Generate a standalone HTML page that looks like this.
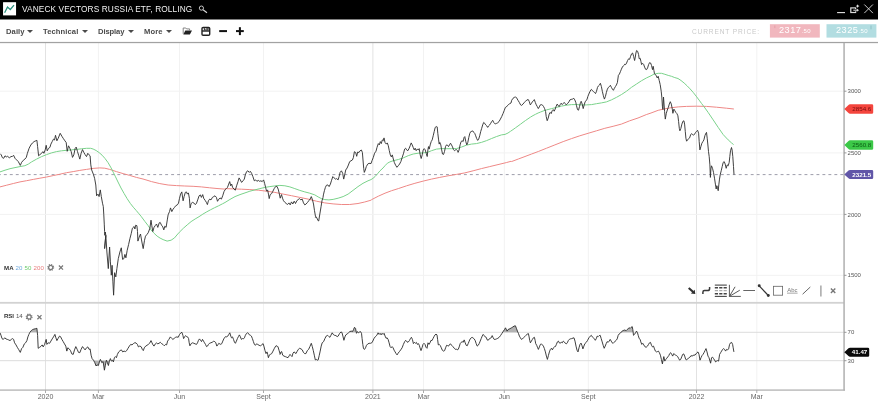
<!DOCTYPE html>
<html><head><meta charset="utf-8"><title>Chart</title>
<style>
html,body{margin:0;padding:0;background:#fff;}
#title,.tb,#cp,.pb,.lbl,svg{will-change:transform}
body{width:878px;height:409px;overflow:hidden;position:relative;font-family:"Liberation Sans",Arial,sans-serif;}
#hdr{position:absolute;left:0;top:0;width:878px;height:19.5px;background:#000;}
#logo{position:absolute;left:3px;top:2.3px;width:13px;height:13px;background:#fff;}
#title{position:absolute;left:22.3px;top:5.4px;font-size:8.3px;line-height:9px;color:#f2f2f2;letter-spacing:0.11px;white-space:nowrap;}
.tb{position:absolute;top:26.9px;font-size:7.6px;line-height:10px;color:#4a4a4a;font-weight:bold;white-space:nowrap;letter-spacing:0.1px}
.car{position:absolute;top:30.2px;width:0;height:0;border-left:3px solid transparent;border-right:3px solid transparent;border-top:3.4px solid #4a4a4a;margin-left:-0.2px}
#cp{position:absolute;left:691.8px;top:27.6px;font-size:6.6px;line-height:8px;color:#c9c9c9;letter-spacing:0.86px;white-space:nowrap;}
.pb{position:absolute;top:24.2px;height:13.4px;color:#fff;font-size:9.2px;line-height:13.4px;text-align:center;letter-spacing:0.5px;white-space:nowrap}
.pb small{font-size:6px;letter-spacing:0.4px}
.lbl{position:absolute;font-size:6.1px;line-height:8px;white-space:nowrap;color:#333;font-weight:bold;letter-spacing:0.1px;word-spacing:0.2px}
.lbl span{font-weight:normal}
</style></head><body>
<svg width="878" height="409" viewBox="0 0 878 409" style="position:absolute;left:0;top:0" font-family="Liberation Sans, Arial, sans-serif">
<line x1="45.5" y1="43" x2="45.5" y2="390" stroke="#e2e2e2" stroke-width="1"/><line x1="98.4" y1="43" x2="98.4" y2="390" stroke="#f2f2f2" stroke-width="1"/><line x1="179.5" y1="43" x2="179.5" y2="390" stroke="#f2f2f2" stroke-width="1"/><line x1="263.5" y1="43" x2="263.5" y2="390" stroke="#f2f2f2" stroke-width="1"/><line x1="372.9" y1="43" x2="372.9" y2="390" stroke="#e2e2e2" stroke-width="1"/><line x1="423.5" y1="43" x2="423.5" y2="390" stroke="#f2f2f2" stroke-width="1"/><line x1="504.3" y1="43" x2="504.3" y2="390" stroke="#f2f2f2" stroke-width="1"/><line x1="588.3" y1="43" x2="588.3" y2="390" stroke="#f2f2f2" stroke-width="1"/><line x1="696.5" y1="43" x2="696.5" y2="390" stroke="#e2e2e2" stroke-width="1"/><line x1="756.8" y1="43" x2="756.8" y2="390" stroke="#f2f2f2" stroke-width="1"/><line x1="0" y1="91.2" x2="844" y2="91.2" stroke="#f2f2f2" stroke-width="1"/><line x1="0" y1="152.9" x2="844" y2="152.9" stroke="#f2f2f2" stroke-width="1"/><line x1="0" y1="214.4" x2="844" y2="214.4" stroke="#f2f2f2" stroke-width="1"/><line x1="0" y1="275.3" x2="844" y2="275.3" stroke="#f2f2f2" stroke-width="1"/><line x1="0" y1="332.3" x2="844" y2="332.3" stroke="#dcdcdc" stroke-width="1"/><line x1="0" y1="360.7" x2="844" y2="360.7" stroke="#dcdcdc" stroke-width="1"/>
<rect x="0" y="0" width="878" height="19.5" fill="#000"/>
<rect x="3.05" y="2.2" width="13" height="13.2" fill="#fff"/>
<rect x="769.9" y="24.2" width="49.9" height="13.4" fill="#f1b7be"/>
<rect x="826.5" y="24.2" width="49.9" height="13.4" fill="#b2dde1"/>
<rect x="0" y="41.9" width="878" height="1.25" fill="#a2a2a2"/>
<rect x="0" y="301.9" width="844" height="1.8" fill="#d2d2d2"/>
<rect x="0" y="389.5" width="845" height="1.15" fill="#a8a8a8"/>
<rect x="843.3" y="43" width="1.55" height="347.5" fill="#b2b2b2"/>
<line x1="45.5" y1="390" x2="45.5" y2="393" stroke="#aaa" stroke-width="1"/><line x1="98.4" y1="390" x2="98.4" y2="393" stroke="#aaa" stroke-width="1"/><line x1="179.5" y1="390" x2="179.5" y2="393" stroke="#aaa" stroke-width="1"/><line x1="263.5" y1="390" x2="263.5" y2="393" stroke="#aaa" stroke-width="1"/><line x1="372.9" y1="390" x2="372.9" y2="393" stroke="#aaa" stroke-width="1"/><line x1="423.5" y1="390" x2="423.5" y2="393" stroke="#aaa" stroke-width="1"/><line x1="504.3" y1="390" x2="504.3" y2="393" stroke="#aaa" stroke-width="1"/><line x1="588.3" y1="390" x2="588.3" y2="393" stroke="#aaa" stroke-width="1"/><line x1="696.5" y1="390" x2="696.5" y2="393" stroke="#aaa" stroke-width="1"/><line x1="756.8" y1="390" x2="756.8" y2="393" stroke="#aaa" stroke-width="1"/><text x="45.5" y="399.4" text-anchor="middle" font-size="7" fill="#666">2020</text><text x="98.4" y="399.4" text-anchor="middle" font-size="7" fill="#666">Mar</text><text x="179.5" y="399.4" text-anchor="middle" font-size="7" fill="#666">Jun</text><text x="263.5" y="399.4" text-anchor="middle" font-size="7" fill="#666">Sept</text><text x="372.9" y="399.4" text-anchor="middle" font-size="7" fill="#666">2021</text><text x="423.5" y="399.4" text-anchor="middle" font-size="7" fill="#666">Mar</text><text x="504.3" y="399.4" text-anchor="middle" font-size="7" fill="#666">Jun</text><text x="588.3" y="399.4" text-anchor="middle" font-size="7" fill="#666">Sept</text><text x="696.5" y="399.4" text-anchor="middle" font-size="7" fill="#666">2022</text><text x="756.8" y="399.4" text-anchor="middle" font-size="7" fill="#666">Mar</text><line x1="844" y1="91.2" x2="846.5" y2="91.2" stroke="#999" stroke-width="1"/><text x="847.6" y="93.3" font-size="6" fill="#555">3000</text><line x1="844" y1="152.9" x2="846.5" y2="152.9" stroke="#999" stroke-width="1"/><text x="847.6" y="155.0" font-size="6" fill="#555">2500</text><line x1="844" y1="214.4" x2="846.5" y2="214.4" stroke="#999" stroke-width="1"/><text x="847.6" y="216.5" font-size="6" fill="#555">2000</text><line x1="844" y1="275.3" x2="846.5" y2="275.3" stroke="#999" stroke-width="1"/><text x="847.6" y="277.4" font-size="6" fill="#555">1500</text><line x1="844" y1="332.3" x2="846.5" y2="332.3" stroke="#999" stroke-width="1"/><text x="847.6" y="334.4" font-size="6" fill="#555">70</text><line x1="844" y1="360.7" x2="846.5" y2="360.7" stroke="#999" stroke-width="1"/><text x="847.6" y="362.8" font-size="6" fill="#555">30</text>
<line x1="0" y1="174.6" x2="844" y2="174.6" stroke="#9494a4" stroke-width="0.92" stroke-dasharray="2.9 3.075" stroke-dashoffset="2.125"/>
<polyline points="0.0,186.9 6.7,185.2 13.3,183.5 20.0,181.9 26.6,180.7 33.3,179.4 39.9,178.2 46.6,177.0 53.2,175.6 59.9,174.2 66.5,172.7 73.2,171.6 79.8,170.4 86.5,169.4 93.1,168.4 99.8,167.9 104.8,168.2 109.7,169.4 116.4,171.6 123.1,173.6 129.7,175.4 136.4,177.4 143.0,179.0 146.0,179.9 151.5,181.6 159.8,183.6 168.1,185.0 176.5,185.6 184.8,186.0 193.1,186.3 201.4,186.9 209.7,187.8 218.0,188.6 224.7,189.1 225.0,188.6 233.3,188.9 241.6,189.2 249.9,189.6 258.3,190.2 266.6,191.2 274.9,192.4 283.2,194.1 291.5,195.7 299.8,197.4 308.1,199.1 316.5,201.2 324.8,202.9 333.1,203.9 341.4,204.5 349.7,204.5 358.0,203.5 364.7,202.0 371.0,200.2 371.7,199.6 378.3,196.2 385.0,193.2 391.6,190.7 398.3,188.6 406.6,185.8 414.9,183.3 423.2,181.1 431.5,179.1 439.8,177.4 448.1,175.8 456.5,174.4 464.8,172.9 473.1,170.8 481.4,168.6 489.7,166.6 498.0,164.6 506.3,162.6 511.0,161.3 511.7,161.5 518.3,159.0 525.0,156.5 531.6,154.0 538.3,151.5 546.6,148.2 554.9,144.9 563.2,141.6 571.5,138.6 579.8,135.8 588.1,133.3 596.5,130.8 604.8,128.3 613.1,126.3 621.4,124.1 629.7,120.8 638.0,118.0 646.3,114.6 651.0,113.0 658.2,110.3 663.2,109.2 669.8,107.9 678.2,106.9 686.5,106.4 696.4,106.2 706.4,106.4 716.4,107.2 726.4,108.2 733.9,109.0" fill="none" stroke="#ee8886" stroke-width="1" stroke-linejoin="round"/>
<polyline points="0.0,171.9 5.0,170.2 10.0,168.7 15.0,167.6 20.0,166.6 24.9,165.7 28.3,164.1 31.6,161.9 36.6,159.1 41.6,156.6 46.6,154.6 51.5,152.9 56.5,151.6 61.5,150.8 66.5,150.3 71.5,149.9 76.5,149.4 81.5,148.8 86.5,148.3 90.6,148.3 93.1,149.0 96.1,150.5 99.1,152.6 102.1,155.2 105.1,158.6 108.1,162.7 111.1,167.9 113.5,172.8 115.5,176.8 118.0,182.0 121.0,188.0 124.1,193.5 127.1,198.6 130.3,203.4 133.3,207.2 136.3,210.6 139.0,213.8 141.0,216.2 145.0,221.6 148.1,225.6 151.1,230.0 154.1,233.3 157.1,236.1 160.1,238.1 163.1,239.6 167.1,241.1 171.1,240.2 174.5,237.9 176.9,235.0 179.4,232.2 183.3,228.3 187.2,224.9 191.1,221.6 195.1,219.0 199.0,216.7 202.9,214.1 206.8,211.8 210.7,209.7 214.6,207.7 218.6,205.8 222.5,203.8 225.0,202.5 230.0,199.4 235.0,196.6 240.0,194.6 245.0,192.9 249.9,191.2 254.9,189.9 259.9,188.6 264.9,187.4 269.9,186.6 274.9,185.9 279.9,185.4 284.9,185.8 289.9,186.9 294.8,188.6 299.8,190.4 304.8,191.9 309.8,193.2 314.8,194.9 318.1,196.9 321.4,198.6 324.8,199.6 328.9,199.9 333.1,199.4 338.1,198.2 343.1,196.6 348.1,194.1 353.0,190.4 358.0,186.6 363.0,183.3 368.0,180.8 371.0,179.6 373.0,178.3 375.0,176.6 377.5,173.8 380.0,170.8 383.0,168.0 385.0,165.7 387.4,163.2 389.9,161.9 393.3,160.7 398.3,159.5 403.2,157.9 408.2,155.7 413.2,154.0 418.2,153.2 423.2,152.9 427.4,152.4 431.5,150.7 436.5,149.1 441.5,148.6 446.5,148.7 451.5,148.7 456.5,148.6 461.4,147.1 466.4,145.2 471.4,144.1 476.4,143.6 481.4,142.4 486.4,140.7 491.4,138.6 496.4,136.6 501.4,134.9 505.0,134.4 508.0,133.0 510.5,131.3 513.0,129.6 515.5,127.8 518.0,126.0 520.5,124.2 523.0,122.3 525.5,120.5 528.0,118.8 530.5,117.1 533.0,115.6 535.5,114.3 538.1,113.0 540.6,112.0 543.1,111.0 546.6,109.9 551.6,108.6 556.5,107.4 561.5,106.1 566.5,105.2 571.5,104.6 576.5,104.6 581.5,104.9 586.5,104.9 591.5,104.6 596.5,103.7 601.4,102.9 606.4,101.9 611.4,99.9 616.4,97.4 621.4,94.6 626.4,91.3 631.4,87.4 636.4,84.1 641.4,80.8 646.3,78.0 651.0,75.8 654.0,74.1 658.2,73.3 661.5,73.3 664.9,74.3 668.2,75.4 671.5,76.3 674.8,77.6 678.0,78.5 681.0,80.5 684.1,83.0 687.1,85.8 690.1,88.9 693.1,92.3 696.1,96.1 699.1,100.1 701.5,103.4 704.1,106.8 708.2,112.5 713.2,119.9 718.2,127.4 723.2,134.6 728.2,139.9 731.5,142.9 733.6,144.6" fill="none" stroke="#7ad28a" stroke-width="1" stroke-linejoin="round"/>
<polyline points="0.0,153.6 1.3,154.9 2.3,157.6 3.7,158.3 5.0,155.8 6.3,156.9 7.6,156.3 9.3,157.8 11.0,156.6 12.6,156.3 13.6,155.3 15.0,158.3 16.6,159.9 18.3,161.6 20.3,165.4 21.6,162.4 23.3,160.3 24.9,159.1 26.3,157.4 27.4,153.3 29.1,148.3 30.8,145.0 32.4,143.0 34.1,141.6 35.8,140.8 36.9,140.3 37.6,146.6 38.6,155.8 39.9,154.6 41.6,153.3 42.9,151.6 43.9,153.3 45.2,149.9 46.2,145.3 47.2,150.8 48.6,148.3 49.9,147.4 50.9,144.1 52.2,141.6 53.5,139.1 54.5,140.0 55.5,135.3 56.9,140.8 58.2,138.3 60.2,133.3 61.9,136.3 63.2,138.3 64.9,140.8 66.2,142.5 67.2,151.3 68.5,145.8 69.8,148.3 71.2,151.6 72.5,157.4 73.8,154.9 75.2,148.3 76.2,147.1 77.5,151.6 78.8,155.8 79.8,159.1 81.1,153.3 82.5,149.6 83.8,152.4 85.1,154.6 86.5,156.6 87.8,153.3 89.1,154.9 90.1,155.8 90.8,164.9 91.7,170.0 93.3,174.1 94.6,178.3 95.8,185.0 96.6,195.8 98.0,194.1 99.1,196.6 100.3,189.9 101.3,196.6 102.5,203.2 103.3,206.6 103.8,214.9 104.3,224.9 104.6,231.5 104.8,235.3 105.3,232.0 105.8,235.3 104.6,248.6 105.8,235.3 106.9,252.0 108.3,268.6 109.6,247.0 110.4,261.9 111.3,275.2 112.1,265.3 112.9,281.9 113.6,295.2 114.6,272.7 115.8,276.9 116.9,268.6 118.3,258.6 119.9,252.0 121.3,247.8 122.6,259.4 123.9,258.6 124.9,254.4 125.9,257.8 127.2,250.3 128.6,244.5 129.9,238.7 131.2,233.7 132.4,228.2 134.1,226.5 134.9,229.0 135.7,225.2 136.9,225.7 137.5,231.5 137.9,241.1 139.2,237.0 140.5,234.0 141.9,242.0 143.2,248.6 144.5,240.3 145.5,236.2 146.9,234.5 148.2,232.8 149.9,228.2 151.0,220.2 151.8,225.7 152.8,231.5 154.0,227.4 155.2,225.7 156.5,224.0 157.8,227.4 159.2,222.9 160.2,222.4 161.5,225.2 162.8,226.9 163.8,229.9 164.8,226.2 166.1,227.4 167.3,219.9 168.1,214.9 169.5,211.6 170.5,207.9 171.8,211.6 173.1,209.1 174.5,207.4 175.8,205.7 177.3,204.9 178.5,203.2 179.5,198.3 180.6,194.1 181.8,191.9 183.1,200.8 184.1,196.6 185.3,192.4 186.4,191.9 187.4,194.1 188.4,192.9 189.4,198.3 190.1,207.9 191.1,203.6 192.4,202.4 193.8,202.9 195.1,204.6 196.4,203.6 197.7,199.9 199.1,195.8 200.4,194.9 201.4,197.4 202.7,194.6 203.7,198.3 205.1,200.3 206.4,202.4 207.4,204.6 208.4,200.8 209.7,199.1 211.0,199.9 212.4,197.4 213.7,196.6 215.0,195.8 216.4,197.4 217.5,201.3 218.9,199.1 220.0,197.9 221.4,199.1 222.7,195.8 224.0,191.6 225.0,189.9 226.3,188.6 227.5,187.4 228.7,184.1 229.7,181.6 230.7,185.8 231.7,184.1 232.6,187.4 234.0,189.1 235.3,190.2 236.6,185.8 238.0,181.6 239.1,177.9 240.3,179.9 241.6,182.4 243.0,180.8 244.3,179.1 245.3,174.9 246.6,171.6 247.9,170.8 249.3,172.4 250.3,171.3 251.6,173.3 252.9,176.6 254.3,180.8 255.6,179.9 256.9,181.3 258.3,180.4 259.6,181.3 260.9,180.8 262.2,181.6 263.6,179.9 264.6,183.3 265.6,187.4 266.6,191.2 267.6,189.9 268.6,194.9 269.2,198.6 270.2,194.6 271.6,193.6 272.9,191.2 274.2,188.6 275.6,186.6 276.9,186.3 278.2,189.1 279.2,193.2 280.2,198.2 281.5,194.6 282.5,198.2 283.5,200.7 284.9,202.4 286.2,203.5 287.5,204.5 288.9,202.9 290.2,204.9 291.5,201.9 292.8,204.0 294.2,201.2 295.5,203.5 296.8,200.7 298.2,199.6 299.5,198.6 300.8,199.9 302.2,199.1 303.5,202.9 304.8,204.9 306.1,204.0 307.5,202.4 308.8,200.7 310.1,199.1 311.3,196.6 312.5,199.9 313.5,204.0 314.5,210.7 315.5,216.5 315.3,217.3 316.3,216.9 318.2,220.8 318.7,221.0 319.5,216.0 321.1,206.4 322.0,200.7 323.0,197.5 323.4,194.9 324.4,190.7 325.4,187.4 326.4,185.3 327.8,184.9 329.1,186.6 330.4,184.1 331.4,180.8 332.8,176.6 334.1,177.9 335.4,179.1 336.7,178.6 338.1,179.9 339.1,176.6 340.1,172.4 341.4,170.8 342.7,173.3 343.7,179.1 344.7,174.9 345.7,170.0 347.1,168.0 348.4,165.0 349.7,161.6 351.0,160.8 352.4,160.0 353.4,157.5 354.4,151.7 355.7,152.5 356.7,156.3 357.7,152.0 359.0,152.5 360.0,150.8 361.4,150.0 362.4,152.5 363.0,160.0 363.7,168.3 364.3,172.4 365.3,170.0 366.3,166.6 367.7,164.1 369.0,163.3 371.0,163.6 372.0,160.7 373.3,157.4 374.6,153.2 376.0,151.2 377.0,147.4 378.3,143.6 379.3,144.9 380.3,141.6 381.3,143.6 382.3,139.9 383.3,140.7 384.0,137.9 385.0,142.4 386.3,144.1 387.3,142.9 388.3,145.7 389.3,150.7 390.3,154.9 391.3,156.9 392.3,154.9 393.3,159.0 394.3,162.4 395.6,165.2 396.9,167.3 398.3,165.7 399.6,164.0 400.9,161.5 402.2,157.4 403.6,153.2 404.6,149.1 405.6,148.2 406.6,149.9 407.9,150.7 409.2,148.2 410.2,145.7 411.2,142.9 412.2,144.9 413.2,147.4 414.2,149.9 415.2,148.2 416.2,150.7 417.2,149.1 418.2,149.9 419.2,148.6 420.2,154.9 421.2,158.5 422.2,154.9 423.2,149.9 424.2,148.6 425.2,149.9 426.2,153.2 427.2,156.5 427.9,149.9 428.5,146.6 429.2,149.1 430.2,144.9 431.2,141.6 432.2,139.9 433.2,135.8 434.2,131.6 435.2,127.4 436.2,126.6 437.2,126.9 437.8,133.3 438.5,139.1 439.2,144.1 439.8,142.4 440.8,144.9 441.5,149.1 442.5,154.0 443.5,154.5 444.5,151.5 445.5,146.6 446.5,144.9 447.5,145.2 448.5,146.6 449.5,144.9 450.5,143.2 451.5,144.9 452.5,146.9 453.5,149.6 454.5,150.7 455.5,149.9 456.5,149.6 457.5,150.7 458.1,152.4 459.1,149.9 460.1,144.9 461.1,141.6 462.1,140.7 463.1,141.6 464.1,137.4 464.8,136.6 465.8,141.6 466.8,144.9 467.8,142.4 468.8,137.4 469.8,133.3 470.8,131.6 471.8,131.3 472.8,130.9 473.8,132.4 474.7,133.3 475.7,135.8 476.7,138.6 477.7,140.4 478.7,139.1 479.7,135.8 480.7,131.6 481.7,128.3 482.7,124.9 483.7,122.4 484.7,123.3 485.7,124.9 486.7,125.8 487.7,127.4 488.7,125.8 489.7,124.9 490.7,123.3 491.7,121.6 492.7,120.3 493.7,122.4 494.7,123.6 495.7,123.8 496.7,123.3 497.7,122.8 499.0,121.6 500.4,119.1 501.7,116.6 503.0,113.6 504.3,110.3 505.3,107.5 506.3,107.0 507.3,105.8 508.3,104.7 509.7,103.7 511.0,103.0 511.7,100.3 513.0,98.3 514.3,97.4 515.6,96.9 516.6,97.9 518.0,100.3 519.3,102.4 520.6,104.9 521.6,105.4 523.0,104.1 524.3,102.4 525.6,101.3 526.9,99.9 528.3,99.6 529.3,101.6 530.3,104.9 531.3,103.6 532.3,101.9 533.3,100.8 534.3,99.6 535.3,102.4 536.3,104.9 537.3,106.6 538.3,108.6 539.3,106.9 540.3,104.9 541.3,104.6 542.6,105.2 543.6,106.6 544.6,108.6 545.6,111.6 546.2,116.5 547.2,120.7 548.2,118.2 549.2,114.1 550.2,112.4 551.2,113.6 552.2,110.7 553.2,109.6 554.2,111.2 555.2,109.1 556.2,106.2 557.2,104.1 558.2,105.7 559.2,106.6 560.2,104.6 561.2,103.2 562.2,104.6 563.2,103.6 564.2,102.4 565.2,103.6 566.2,104.9 567.5,103.6 568.9,101.9 569.9,99.9 571.2,99.4 572.5,99.1 573.8,98.3 574.8,99.9 575.8,102.4 576.5,105.7 577.5,109.6 578.5,110.2 579.5,106.6 580.5,102.4 581.2,101.3 582.2,104.1 583.2,108.6 584.2,104.9 585.2,101.6 586.1,100.8 587.1,99.1 587.8,96.6 588.8,94.1 589.8,91.9 590.8,89.9 591.5,89.4 592.5,90.8 593.5,91.6 594.5,92.4 595.5,93.6 596.5,91.3 597.5,87.4 598.5,85.8 599.5,85.0 600.4,83.3 601.4,86.6 602.4,91.6 603.4,95.8 604.4,99.1 605.4,96.6 606.4,92.4 607.4,89.1 608.4,87.4 609.4,86.6 610.4,85.3 611.4,87.4 612.4,89.1 613.4,90.3 614.4,88.3 615.4,86.6 616.4,85.0 617.4,82.5 618.4,75.3 619.4,74.1 620.4,71.7 621.4,69.2 622.4,67.0 623.4,65.8 624.4,65.0 624.6,64.3 625.6,64.6 626.6,63.0 627.6,60.5 628.6,58.8 629.6,59.3 630.6,56.3 631.6,53.8 632.6,53.0 633.6,56.3 634.6,60.5 635.3,57.1 635.9,53.0 636.6,50.5 637.6,51.3 638.6,54.6 639.2,58.8 640.2,58.3 640.9,61.3 641.6,64.6 642.6,63.3 643.6,64.3 644.6,67.1 645.6,69.3 646.6,69.6 647.6,67.9 648.6,64.6 649.6,62.6 650.6,63.0 651.5,65.4 652.5,69.6 653.2,66.3 653.9,70.4 654.5,73.8 655.2,74.6 656.2,75.4 657.2,77.9 658.2,76.3 659.2,80.4 660.2,84.6 661.2,91.2 661.9,97.9 662.4,106.2 662.9,109.5 663.5,97.0 664.6,111.6 665.3,119.1 666.3,113.3 667.3,110.0 668.3,107.5 669.3,104.1 670.3,101.7 671.3,104.1 672.3,109.1 672.9,113.3 673.9,109.1 674.9,110.8 675.9,112.5 676.9,113.6 677.9,115.8 678.6,121.6 679.3,128.3 679.9,130.8 680.9,128.3 681.9,124.1 682.9,121.3 683.9,120.8 684.6,124.1 685.3,131.6 685.9,138.2 686.6,141.2 687.6,139.9 688.6,138.6 689.6,137.9 690.6,134.9 691.6,133.6 692.6,134.6 693.6,135.2 694.6,134.1 695.6,132.4 696.6,131.3 697.6,130.3 698.6,133.2 699.2,141.6 699.9,149.9 700.9,146.5 701.9,143.2 702.9,141.6 703.9,139.9 704.9,135.7 705.9,133.2 706.5,132.4 707.2,138.2 707.9,145.0 708.5,151.6 709.2,156.6 709.9,164.9 710.4,177.4 710.9,169.1 711.5,165.8 712.5,168.3 713.5,172.4 714.5,178.2 715.5,184.9 716.2,189.0 716.8,185.7 717.5,187.4 718.2,190.7 718.8,184.9 719.5,179.1 720.2,174.9 721.2,170.8 722.2,166.6 723.2,162.4 724.2,161.6 725.2,164.1 726.2,168.3 727.2,164.9 728.2,165.8 729.2,162.4 729.8,156.6 730.5,150.8 731.5,147.5 732.1,150.0 732.8,156.6 733.5,166.6 734.0,174.6" fill="none" stroke="#303030" stroke-width="0.92" stroke-linejoin="round"/>
<polygon points="29.9,332.3 29.9,332.3 31.3,330.6 32.6,329.6 33.9,329.1 35.3,328.8 36.9,328.3 37.3,332.3" fill="#9a9a9a" fill-opacity="0.75"/><polygon points="181.9,332.3 181.9,332.3 181.9,332.3" fill="#9a9a9a" fill-opacity="0.75"/><polygon points="340.6,332.3 340.9,332.0 341.9,332.3 341.9,332.3" fill="#9a9a9a" fill-opacity="0.75"/><polygon points="349.1,332.3 349.8,331.6 351.2,331.1 352.5,331.6 353.5,329.5 354.5,327.3 355.5,328.3 356.3,332.3" fill="#9a9a9a" fill-opacity="0.75"/><polygon points="357.1,332.3 357.5,331.6 358.1,332.3" fill="#9a9a9a" fill-opacity="0.75"/><polygon points="359.1,332.3 359.5,332.0 360.5,331.6 360.9,332.3" fill="#9a9a9a" fill-opacity="0.75"/><polygon points="502.7,332.3 503.1,331.6 504.5,329.5 505.5,327.8 506.5,330.0 507.1,331.1 508.1,329.5 509.1,329.1 510.1,328.6 511.5,327.8 512.8,327.0 514.1,326.1 515.4,325.8 516.4,328.3 517.4,331.1 518.0,332.3" fill="#9a9a9a" fill-opacity="0.75"/><polygon points="620.9,332.3 621.2,332.0 622.2,331.1 623.2,330.6 624.2,330.0 625.2,330.3 626.2,330.6 627.2,329.5 628.2,328.6 629.2,327.8 630.2,328.3 631.2,327.3 632.2,326.6 632.8,329.5 633.2,332.3" fill="#9a9a9a" fill-opacity="0.75"/><polygon points="635.8,332.3 636.5,331.1 637.2,332.3" fill="#9a9a9a" fill-opacity="0.75"/><polygon points="93.7,360.7 94.8,362.7 96.1,366.0 97.1,364.9 98.4,365.5 99.4,361.9 99.9,360.7" fill="#9a9a9a" fill-opacity="0.75"/><polygon points="101.0,360.7 101.8,362.7 103.1,361.6 103.8,366.0 104.4,370.2 105.4,365.2 106.3,360.7" fill="#9a9a9a" fill-opacity="0.75"/><polygon points="106.6,360.7 107.4,362.7 108.4,365.5 109.4,361.1 109.6,360.7" fill="#9a9a9a" fill-opacity="0.75"/><polygon points="111.3,360.7 111.4,361.1 111.8,360.7" fill="#9a9a9a" fill-opacity="0.75"/><polygon points="112.7,360.7 113.4,361.9 113.7,360.7" fill="#9a9a9a" fill-opacity="0.75"/><polygon points="661.7,360.7 662.4,363.9 663.0,360.7" fill="#9a9a9a" fill-opacity="0.75"/><polygon points="664.7,360.7 664.8,361.1 665.0,360.7" fill="#9a9a9a" fill-opacity="0.75"/><polygon points="709.8,360.7 710.0,361.1 710.6,363.2 711.1,360.7" fill="#9a9a9a" fill-opacity="0.75"/><polygon points="714.9,360.7 715.6,361.9 716.6,361.1 717.3,360.7" fill="#9a9a9a" fill-opacity="0.75"/><polygon points="717.9,360.7 718.6,361.1 718.7,360.7" fill="#9a9a9a" fill-opacity="0.75"/>
<polyline points="0.0,332.8 1.0,335.3 2.0,338.6 3.3,339.4 4.7,337.8 6.0,338.9 7.3,339.4 8.6,339.9 10.0,340.6 11.3,339.4 12.6,338.6 13.6,339.4 14.6,342.8 16.0,344.9 17.3,347.3 18.6,349.4 20.3,352.4 21.6,348.6 22.9,347.3 24.3,343.9 25.6,342.8 26.9,340.6 27.9,336.9 28.9,334.4 29.9,332.3 31.3,330.6 32.6,329.6 33.9,329.1 35.3,328.8 36.9,328.3 37.6,335.3 38.2,348.3 39.6,347.3 40.9,346.4 42.2,344.9 43.2,346.9 44.6,344.4 45.6,341.1 46.2,339.4 46.9,344.4 48.2,342.8 49.6,343.3 50.9,341.1 52.2,338.9 53.5,336.9 54.9,334.4 55.9,337.8 56.9,340.6 58.2,338.3 59.5,336.1 60.5,336.6 61.9,339.4 63.2,341.6 64.5,343.9 65.8,346.1 66.8,351.1 67.8,347.8 69.2,348.9 70.5,350.6 71.8,353.9 73.2,354.4 74.5,349.9 75.8,346.6 77.2,349.4 78.5,352.4 79.8,352.7 81.1,349.4 82.5,346.6 83.8,348.3 85.1,349.9 86.5,347.8 87.8,346.9 89.1,349.4 90.1,348.9 91.1,355.2 92.1,358.6 93.5,360.2 94.8,362.7 96.1,366.0 97.1,364.9 98.4,365.5 99.4,361.9 100.4,359.4 101.8,362.7 103.1,361.6 103.8,366.0 104.4,370.2 105.4,365.2 106.4,360.2 107.4,362.7 108.4,365.5 109.4,361.1 110.4,358.6 111.4,361.1 112.4,360.2 113.4,361.9 114.4,357.7 115.4,356.6 116.4,357.7 117.4,354.4 118.7,351.9 120.1,350.6 121.4,349.9 122.7,351.9 124.1,351.1 125.4,351.6 126.7,350.6 128.0,348.3 129.4,346.1 130.7,344.4 132.0,344.9 133.4,343.6 134.7,342.8 136.0,342.9 137.4,344.4 138.4,346.9 139.7,346.1 140.0,346.1 141.3,346.9 142.3,349.4 143.3,350.6 144.3,347.8 145.7,346.1 147.0,345.3 148.3,344.4 149.6,343.3 151.0,340.6 152.0,342.8 153.0,344.9 154.0,346.1 155.3,343.9 156.6,342.8 157.6,343.9 159.0,343.3 160.3,342.3 161.6,343.6 162.9,344.4 164.3,345.8 165.6,344.4 166.6,344.9 167.6,341.1 168.9,339.4 170.3,336.9 171.6,338.3 172.9,339.4 174.3,338.3 175.6,337.3 176.9,336.9 178.2,337.3 179.6,334.4 180.9,332.8 181.9,332.3 182.9,335.3 183.6,338.6 184.6,336.9 185.6,335.6 186.6,336.6 187.6,336.9 188.6,338.6 189.2,342.8 189.9,345.8 191.2,343.6 192.5,342.8 193.9,343.3 195.2,343.9 196.5,344.4 197.5,342.8 198.5,340.3 199.5,338.9 200.5,340.3 201.5,341.6 202.5,339.4 203.5,341.1 204.5,342.8 205.5,344.4 206.5,346.6 207.5,346.1 208.5,344.4 209.5,343.3 210.8,342.8 212.2,342.3 213.5,341.3 214.8,341.6 215.8,342.8 216.8,346.1 217.8,344.9 218.8,343.3 219.8,343.9 220.8,344.4 221.8,343.6 222.8,341.1 223.8,338.9 224.8,337.3 225.8,336.6 226.8,336.9 227.8,336.1 228.8,334.4 229.8,332.8 230.8,336.1 231.5,337.8 232.5,336.9 233.5,339.4 234.5,342.3 235.4,343.3 236.4,341.1 237.4,338.6 238.4,336.6 239.4,334.9 240.4,336.9 241.4,339.4 242.4,338.6 243.4,338.9 244.4,337.8 245.4,335.3 246.4,333.6 247.4,332.8 248.4,333.3 249.4,334.9 250.4,335.3 251.4,336.1 252.4,338.6 253.4,341.6 254.4,344.4 255.4,345.3 256.4,343.9 257.7,344.4 259.1,345.3 260.4,345.8 261.7,344.9 263.1,343.6 264.1,346.9 265.0,350.6 266.0,353.6 267.0,351.9 267.7,354.4 268.4,357.7 269.4,354.9 270.4,354.4 271.7,353.6 273.0,351.1 274.4,348.3 275.7,346.1 277.0,345.8 278.0,346.9 279.0,350.2 280.0,353.6 280.0,354.4 281.0,351.9 281.7,351.6 282.7,355.2 284.0,356.1 285.3,356.6 286.7,357.2 288.0,357.7 289.3,355.6 290.0,354.4 291.0,355.6 292.0,356.6 293.0,353.2 294.0,351.9 295.0,352.7 296.0,353.6 297.0,351.6 298.3,349.4 299.6,348.3 301.0,348.9 302.3,349.9 303.3,352.2 304.6,353.6 305.9,353.6 307.3,350.6 308.6,349.4 309.9,346.6 311.3,343.3 312.3,346.6 313.3,350.6 314.3,355.2 315.3,359.9 316.3,359.4 317.2,360.2 318.2,359.9 319.2,355.6 320.2,351.1 321.2,346.1 322.2,342.8 323.6,341.6 324.9,338.6 326.2,336.1 327.6,335.3 328.9,336.6 329.9,337.3 330.9,335.3 332.2,332.8 333.2,334.4 334.5,335.3 335.9,335.6 337.2,336.6 338.2,336.1 339.5,333.6 340.9,332.0 341.9,332.3 342.9,336.1 343.9,340.3 344.9,336.9 345.8,334.9 347.2,333.9 348.5,332.8 349.8,331.6 351.2,331.1 352.5,331.6 353.5,329.5 354.5,327.3 355.5,328.3 356.5,333.3 357.5,331.6 358.5,332.8 359.5,332.0 360.5,331.6 361.5,333.3 362.1,338.6 362.8,344.4 363.5,348.6 364.5,349.4 365.5,347.8 366.5,345.3 367.8,343.9 369.1,343.3 370.5,343.3 371.8,342.8 372.8,341.1 374.1,338.3 375.4,336.6 376.8,335.3 378.1,332.8 379.1,334.4 380.1,333.3 381.1,334.9 382.1,333.3 383.1,334.4 384.1,333.3 385.1,336.1 386.1,338.3 387.1,337.8 388.1,339.4 389.1,342.8 390.1,346.6 391.1,347.8 392.1,346.6 393.1,347.8 394.1,350.2 395.1,351.9 396.1,353.6 397.1,354.9 398.1,353.2 399.4,351.6 400.7,349.9 402.1,347.8 403.4,344.4 404.7,341.6 405.7,340.3 406.7,341.6 408.0,342.3 409.4,340.6 410.4,338.6 411.4,337.3 412.4,339.4 413.4,343.6 414.4,342.3 415.4,343.3 416.4,342.4 417.4,344.4 418.4,343.6 419.3,345.3 420.0,347.8 420.0,347.8 421.0,350.6 422.0,347.8 423.0,344.4 424.0,343.3 425.0,344.4 426.0,347.3 427.0,348.3 428.0,342.8 429.0,344.4 430.0,342.8 431.0,340.3 432.0,340.6 433.0,338.6 434.0,336.6 435.0,334.9 436.0,334.1 437.0,334.9 437.6,339.4 438.3,344.9 439.3,344.4 440.3,345.6 441.3,347.8 442.3,350.2 443.3,351.1 444.6,350.6 445.6,347.8 446.6,345.3 447.6,345.6 448.6,346.1 449.6,344.4 450.6,343.9 451.6,345.3 452.9,346.6 454.3,348.3 455.3,349.4 456.3,348.9 457.2,349.9 458.2,349.4 459.2,346.9 460.2,343.6 461.2,342.3 462.2,341.6 463.2,342.3 464.2,339.9 465.2,342.8 466.2,345.3 467.2,345.8 468.2,343.6 469.2,341.1 470.2,338.9 471.2,337.8 472.2,337.4 473.2,338.1 474.2,338.9 475.2,340.6 476.2,343.6 477.2,346.1 478.2,345.3 479.2,343.6 480.2,341.1 481.2,338.6 482.2,336.1 483.2,334.4 484.2,335.6 485.2,336.9 486.2,337.3 487.2,339.9 488.2,340.3 489.2,338.9 490.2,338.3 491.2,337.8 492.2,335.6 493.2,337.8 494.2,339.4 495.2,339.4 496.5,338.9 497.8,338.3 499.2,337.3 500.5,335.6 501.8,333.6 503.1,331.6 504.5,329.5 505.5,327.8 506.5,330.0 507.1,331.1 508.1,329.5 509.1,329.1 510.1,328.6 511.5,327.8 512.8,327.0 514.1,326.1 515.4,325.8 516.4,328.3 517.4,331.1 518.4,333.3 519.4,336.1 520.4,337.8 521.4,339.4 522.4,338.9 523.4,337.8 524.8,336.6 526.1,335.3 527.4,333.9 528.4,333.6 529.1,336.9 529.7,340.3 530.4,342.8 531.4,341.1 532.4,339.4 533.4,337.8 534.4,337.3 535.1,340.3 535.7,343.6 536.7,345.3 537.7,347.8 538.4,349.4 539.4,346.9 540.4,344.4 541.4,343.9 542.4,344.9 543.4,346.1 544.4,348.6 545.4,351.9 546.4,356.1 547.4,359.4 548.4,355.6 549.4,351.9 550.4,349.4 551.4,348.3 552.4,349.9 553.4,347.8 554.4,346.9 555.4,346.6 556.4,344.4 557.4,341.9 558.4,341.1 559.3,342.8 560.0,343.3 560.0,343.3 561.3,342.3 562.3,342.8 563.3,341.1 564.3,341.9 565.3,343.3 566.3,343.9 567.3,342.8 568.3,340.6 569.3,339.4 570.3,338.9 571.6,338.6 573.0,338.1 574.0,337.8 575.0,341.1 576.0,346.1 577.0,350.2 578.0,351.9 579.0,347.8 580.0,344.4 581.0,343.1 581.9,345.3 582.9,348.9 583.9,346.1 584.9,343.6 586.3,342.3 587.6,340.3 588.9,337.8 590.3,336.1 591.3,335.3 592.3,336.9 593.3,337.8 594.3,338.6 595.3,340.3 596.3,338.6 597.2,336.1 598.2,336.6 599.2,335.6 600.2,335.3 601.2,338.6 602.2,341.9 603.2,345.3 604.2,348.3 605.2,346.1 606.2,343.6 607.2,341.6 608.2,342.3 609.2,341.1 610.2,339.4 611.2,341.1 612.2,342.8 613.2,343.3 614.2,342.3 615.2,341.1 616.2,340.3 617.2,338.9 618.2,335.3 619.2,333.9 620.2,333.3 621.2,332.0 622.2,331.1 623.2,330.6 624.2,330.0 625.2,330.3 626.2,330.6 627.2,329.5 628.2,328.6 629.2,327.8 630.2,328.3 631.2,327.3 632.2,326.6 632.8,329.5 633.5,335.3 634.5,334.4 635.5,332.8 636.5,331.1 637.5,332.8 638.2,335.3 639.2,338.6 640.2,339.4 640.8,341.9 641.8,344.4 642.8,343.3 643.8,344.9 644.8,346.6 646.1,347.3 647.5,346.1 648.5,344.4 649.5,342.8 650.5,342.4 651.5,345.3 652.5,346.9 653.5,346.1 654.5,348.9 655.4,351.1 656.4,351.9 657.4,351.6 658.4,351.1 659.4,352.7 660.4,355.2 661.4,359.4 662.4,363.9 663.1,360.2 663.8,356.6 664.8,361.1 665.8,359.4 666.8,358.2 667.8,356.9 668.8,355.6 669.7,353.6 670.7,352.7 671.7,354.4 672.7,356.1 673.7,353.6 674.7,354.4 675.7,355.2 676.7,355.7 677.7,356.6 678.7,358.6 679.7,360.2 680.7,359.4 681.7,356.9 682.7,354.4 683.7,353.9 684.7,356.1 685.7,359.4 686.7,359.9 687.7,358.6 688.7,358.2 689.7,357.2 690.0,357.2 691.0,355.6 692.0,356.1 693.0,355.6 694.0,354.9 695.0,355.2 696.0,353.9 697.0,352.7 698.0,351.9 699.0,354.4 700.0,360.2 701.0,357.7 702.0,355.6 703.0,354.4 704.0,352.7 705.0,350.6 706.0,348.6 707.0,351.9 708.0,356.1 709.0,357.7 710.0,361.1 710.6,363.2 711.6,357.7 712.6,357.2 713.6,358.6 714.6,360.2 715.6,361.9 716.6,361.1 717.6,360.6 718.6,361.1 719.6,354.4 720.6,352.7 721.6,351.1 722.6,349.4 723.6,348.6 724.6,349.4 725.6,351.1 726.6,349.4 727.6,349.9 728.6,348.9 729.6,344.4 730.6,342.8 731.6,342.4 732.6,344.4 733.2,347.8 733.9,351.9" fill="none" stroke="#2a2a2a" stroke-width="0.9" stroke-linejoin="round"/>
<path d="M844.3 109.00 L848.5 104.95 Q849.1 104.25 850 104.25 H871.9 a1.3 1.3 0 0 1 1.3 1.3 V112.45 a1.3 1.3 0 0 1 -1.3 1.3 H850 Q849.1 113.75 848.5 113.05 Z" fill="#f4453d"/><text x="871.3" y="111.25" text-anchor="end" font-size="6.2"  fill="#7a0c0c">2854.6</text><path d="M844.3 145.00 L848.5 140.95 Q849.1 140.25 850 140.25 H871.9 a1.3 1.3 0 0 1 1.3 1.3 V148.45 a1.3 1.3 0 0 1 -1.3 1.3 H850 Q849.1 149.75 848.5 149.05 Z" fill="#3cc848"/><text x="871.3" y="147.25" text-anchor="end" font-size="6.2"  fill="#0a5c14">2560.8</text><path d="M844.3 174.45 L848.5 170.60 Q849.1 169.90 850 169.90 H871.9 a1.3 1.3 0 0 1 1.3 1.3 V177.70 a1.3 1.3 0 0 1 -1.3 1.3 H850 Q849.1 179.00 848.5 178.30 Z" fill="#6156a8"/><text x="871.3" y="176.70" text-anchor="end" font-size="6.2" font-weight="bold" fill="#fff">2321.5</text><path d="M844.3 352.20 L848.5 348.35 Q849.1 347.65 850 347.65 H867.9 a1.3 1.3 0 0 1 1.3 1.3 V355.45 a1.3 1.3 0 0 1 -1.3 1.3 H850 Q849.1 356.75 848.5 356.05 Z" fill="#0a0a0a"/><text x="867.3" y="354.45" text-anchor="end" font-size="6.2" font-weight="bold" fill="#fff">41.47</text>
<!-- logo zigzag -->
<polyline points="4.6,12.7 7.5,7.1 10.3,9.5 14,5.1" fill="none" stroke="#2a8f7e" stroke-width="1.25" stroke-linejoin="miter"/>
<!-- search -->
<circle cx="201.4" cy="8.1" r="2.1" fill="none" stroke="#d8d8d8" stroke-width="0.9"/>
<line x1="203" y1="9.7" x2="207" y2="12.7" stroke="#d8d8d8" stroke-width="1.1"/>
<!-- window controls -->
<line x1="837.1" y1="12.6" x2="845" y2="12.6" stroke="#e4e4e4" stroke-width="1.1"/>
<rect x="850.8" y="7.9" width="4.8" height="4.6" fill="none" stroke="#dcdcdc" stroke-width="1.2"/>
<rect x="853.3" y="9.1" width="3.2" height="2.2" fill="#000"/>
<line x1="853.3" y1="10.2" x2="857.2" y2="10.2" stroke="#dcdcdc" stroke-width="1"/>
<path d="M856.8 8.6 L859 10.2 L856.8 11.8 Z" fill="#dcdcdc"/>
<path d="M857.6 4.2 L858.2 5.5 L859.5 6.1 L858.2 6.7 L857.6 8 L857 6.7 L855.7 6.1 L857 5.5 Z" fill="#e6e6e6"/>
<path d="M864.3 4.5 L872.9 13.1 M872.9 4.5 L864.3 13.1" stroke="#dedede" stroke-width="0.9" fill="none"/>
<!-- folder -->
<path d="M183.2 33.8 V28 H185.8 L186.6 28.9 H189.6 V30.2" fill="none" stroke="#777" stroke-width="0.9"/>
<path d="M183.3 34.6 L185.3 30.4 H192 L189.9 34.6 Z" fill="#222"/>
<!-- save -->
<rect x="202" y="27.5" width="7.7" height="7.8" rx="1.1" fill="none" stroke="#222" stroke-width="1.4"/>
<rect x="204.3" y="27.5" width="3.8" height="2.4" fill="none" stroke="#222" stroke-width="0.9"/>
<rect x="206.5" y="27.8" width="1" height="1.6" fill="#222"/>
<rect x="202" y="30.3" width="7.7" height="1.4" fill="#222"/>
<!-- minus plus -->
<rect x="219.2" y="30.1" width="7.8" height="2" fill="#111"/>
<rect x="236" y="30.1" width="7.8" height="2" fill="#111"/>
<rect x="238.9" y="27.2" width="2" height="7.9" fill="#111"/>
<!-- price box markers -->
<rect x="774.2" y="25.5" width="1.2" height="2.6" fill="#e6a3ab"/>
<rect x="870.2" y="25.5" width="1.6" height="3.8" fill="#9ccbd0"/>
<!-- gears -->
<g id="gearMA" transform="translate(50.7,267.5)"><circle r="2.1" fill="none" stroke="#7a7a7a" stroke-width="1.3"/><circle r="2.9" fill="none" stroke="#7a7a7a" stroke-width="1.2" stroke-dasharray="1.14 1.14"/></g>
<path d="M58.9 265.5 L63 269.6 M63 265.5 L58.9 269.6" stroke="#777" stroke-width="1.25" fill="none"/>
<g transform="translate(29.1,317.0)"><circle r="2.1" fill="none" stroke="#7a7a7a" stroke-width="1.3"/><circle r="2.9" fill="none" stroke="#7a7a7a" stroke-width="1.2" stroke-dasharray="1.14 1.14"/></g>
<path d="M37.4 315.1 L41.5 319.2 M41.5 315.1 L37.4 319.2" stroke="#777" stroke-width="1.25" fill="none"/>
<!-- drawing toolbar -->
<path d="M688.7 287.9 L693.2 292.1" stroke="#2e2e2e" stroke-width="2" fill="none"/>
<path d="M695.3 294.1 L690.9 293.5 L694.7 289.8 Z" fill="#2e2e2e"/>
<path d="M702.9 294 V292.2 Q702.9 290.6 704.5 290.6 H707.6 Q709.6 290.6 709.6 288.8 V287" fill="none" stroke="#3a3a3a" stroke-width="1.5"/>
<g stroke="#444" fill="none"><line x1="714.8" y1="285.1" x2="726.8" y2="285.1" stroke-width="1.1"/><line x1="714.8" y1="296.4" x2="726.8" y2="296.4" stroke-width="1.1"/>
<line x1="714.8" y1="287.7" x2="726.8" y2="287.7" stroke-width="1.5" stroke-dasharray="3.2 1.2"/>
<line x1="714.8" y1="290.7" x2="726.8" y2="290.7" stroke-width="1.2" stroke="#aaa" stroke-dasharray="3.2 1.2"/>
<line x1="714.8" y1="293.8" x2="726.8" y2="293.8" stroke-width="1.5" stroke-dasharray="3.2 1.2"/></g>
<path d="M729.4 284.8 V296.4 H740.8 M729.4 296.4 L735.1 286.8 M729.4 296.4 L739.8 290.2" fill="none" stroke="#505050" stroke-width="0.95"/>
<line x1="743.3" y1="290.5" x2="755" y2="290.5" stroke="#555" stroke-width="0.9"/>
<line x1="759.2" y1="285.8" x2="768.3" y2="295.5" stroke="#333" stroke-width="1.2"/>
<circle cx="759.2" cy="285.8" r="1.45" fill="#333"/><circle cx="768.3" cy="295.5" r="1.45" fill="#333"/>
<rect x="773.4" y="286.3" width="9.2" height="8.9" fill="none" stroke="#666" stroke-width="0.8"/>
<text x="792.3" y="292.2" text-anchor="middle" font-size="5.9" fill="#777">Abc</text>
<line x1="787" y1="293.15" x2="797.6" y2="293.15" stroke="#808080" stroke-width="0.7"/>
<line x1="802.6" y1="294.2" x2="810.3" y2="287" stroke="#555" stroke-width="0.9"/>
<line x1="820.9" y1="285.5" x2="820.9" y2="296.5" stroke="#999" stroke-width="1.3"/>
<path d="M830.9 288.6 L835.3 293 M835.3 288.6 L830.9 293" stroke="#777" stroke-width="1.4" fill="none"/>

</svg>
<div id="title">VANECK VECTORS RUSSIA ETF, ROLLING</div>
<div class="tb" style="left:5.6px">Daily</div><div class="car" style="left:27.6px"></div>
<div class="tb" style="left:43.4px">Technical</div><div class="car" style="left:81.9px"></div>
<div class="tb" style="left:97.6px;letter-spacing:-0.1px">Display</div><div class="car" style="left:128px"></div>
<div class="tb" style="left:144px">More</div><div class="car" style="left:166.3px"></div>
<div id="cp">CURRENT PRICE:</div>
<div class="pb" style="left:769.9px;width:49.9px">2317<small>.50</small></div>
<div class="pb" style="left:826.5px;width:49.9px">2325<small>.50</small></div>
<div class="lbl" style="left:4.2px;top:263.5px">MA <span style="color:#6fa8dc">20</span> <span style="color:#6ccb6c">50</span> <span style="color:#e87c7c">200</span></div>
<div class="lbl" style="left:4.2px;top:311.9px;letter-spacing:-0.1px;word-spacing:0.6px">RSI <span style="color:#555">14</span></div>
</body></html>
